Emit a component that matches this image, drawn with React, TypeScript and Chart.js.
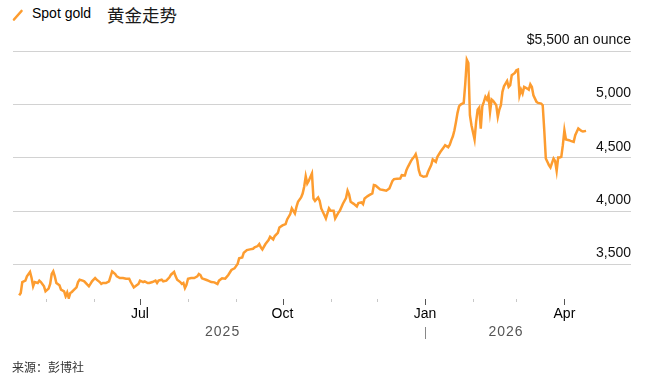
import React, { useEffect, useRef } from "react";
import { Chart, registerables } from "chart.js";

Chart.register(...registerables);

// Spot gold, USD per ounce
const DATES: string[] = [
  "2025-04-14","2025-04-15","2025-04-16","2025-04-18","2025-04-19","2025-04-21","2025-04-22","2025-04-23","2025-04-24","2025-04-26","2025-04-27","2025-04-28","2025-04-30",
  "2025-05-01","2025-05-03","2025-05-04","2025-05-05","2025-05-06","2025-05-07","2025-05-08","2025-05-10","2025-05-11","2025-05-13","2025-05-14","2025-05-15","2025-05-16","2025-05-17","2025-05-18","2025-05-19","2025-05-21","2025-05-22","2025-05-23","2025-05-25","2025-05-26","2025-05-28","2025-05-29","2025-05-30","2025-05-31",
  "2025-06-02","2025-06-03","2025-06-05","2025-06-06","2025-06-07","2025-06-09","2025-06-11","2025-06-12","2025-06-13","2025-06-15","2025-06-16","2025-06-18","2025-06-20","2025-06-22","2025-06-24","2025-06-25","2025-06-27","2025-06-28","2025-06-30",
  "2025-07-01","2025-07-03","2025-07-04","2025-07-06","2025-07-07","2025-07-09","2025-07-11","2025-07-12","2025-07-13","2025-07-15","2025-07-16","2025-07-18","2025-07-20","2025-07-21","2025-07-23","2025-07-24","2025-07-25","2025-07-27","2025-07-28","2025-07-29","2025-07-30","2025-07-31",
  "2025-08-01","2025-08-03","2025-08-05","2025-08-07","2025-08-08","2025-08-09","2025-08-10","2025-08-13","2025-08-14","2025-08-16","2025-08-18","2025-08-20","2025-08-21","2025-08-23","2025-08-25","2025-08-27","2025-08-29","2025-08-31",
  "2025-09-02","2025-09-03","2025-09-05","2025-09-06","2025-09-08","2025-09-10","2025-09-12","2025-09-13","2025-09-15","2025-09-16","2025-09-17","2025-09-18","2025-09-20","2025-09-22","2025-09-23","2025-09-25","2025-09-26","2025-09-28","2025-09-29",
  "2025-10-01","2025-10-03","2025-10-04","2025-10-06","2025-10-07","2025-10-09","2025-10-10","2025-10-11","2025-10-13","2025-10-14","2025-10-15","2025-10-16","2025-10-17","2025-10-18","2025-10-19","2025-10-20","2025-10-21","2025-10-22","2025-10-24","2025-10-25","2025-10-26","2025-10-28","2025-10-29","2025-10-31",
  "2025-11-01","2025-11-03","2025-11-04","2025-11-06","2025-11-07","2025-11-09","2025-11-11","2025-11-12","2025-11-13","2025-11-14","2025-11-16","2025-11-18","2025-11-19","2025-11-21","2025-11-22","2025-11-23","2025-11-25","2025-11-26","2025-11-28","2025-11-29","2025-11-30",
  "2025-12-01","2025-12-03","2025-12-05","2025-12-07","2025-12-09","2025-12-11","2025-12-12","2025-12-14","2025-12-16","2025-12-17","2025-12-19","2025-12-20","2025-12-21","2025-12-23","2025-12-24","2025-12-25","2025-12-26","2025-12-27","2025-12-28","2025-12-29","2025-12-31",
  "2026-01-02","2026-01-03","2026-01-05","2026-01-06","2026-01-08","2026-01-09","2026-01-11","2026-01-13","2026-01-14","2026-01-16","2026-01-17","2026-01-18","2026-01-19","2026-01-20","2026-01-21","2026-01-22","2026-01-23","2026-01-24","2026-01-26","2026-01-27","2026-01-28","2026-01-29","2026-01-30","2026-01-31",
  "2026-02-02","2026-02-03","2026-02-04","2026-02-05","2026-02-06","2026-02-07","2026-02-08","2026-02-09","2026-02-10","2026-02-11","2026-02-12","2026-02-13","2026-02-14","2026-02-15","2026-02-16","2026-02-17","2026-02-18","2026-02-19","2026-02-20","2026-02-21","2026-02-23","2026-02-24","2026-02-25","2026-02-26","2026-02-28",
  "2026-03-01","2026-03-02","2026-03-03","2026-03-04","2026-03-05","2026-03-06","2026-03-08","2026-03-09","2026-03-10","2026-03-11","2026-03-12","2026-03-14","2026-03-15","2026-03-17","2026-03-18","2026-03-19","2026-03-20","2026-03-21","2026-03-22","2026-03-23","2026-03-25","2026-03-26","2026-03-27","2026-03-28","2026-03-29","2026-03-30","2026-03-31",
  "2026-04-01","2026-04-02","2026-04-04","2026-04-05","2026-04-07","2026-04-08","2026-04-09","2026-04-10","2026-04-12","2026-04-13","2026-04-15",
];

const PRICES: number[] = [
  3209,3231,3334,3347,3387,3428,3372,3294,3334,3325,3347,3334,3294,
  3247,3272,3316,3409,3434,3387,3325,3303,3262,3247,3200,3237,3184,3231,3241,3256,3284,3334,3356,3347,3341,3309,3294,3316,3341,
  3372,3356,3334,3316,3325,3325,3341,3387,3434,3409,3387,3372,3372,3365,3365,3334,3284,3294,3316,
  3347,3334,3341,3325,3325,3334,3347,3325,3347,3356,3341,3347,3378,3403,3428,3387,3356,3334,3316,3325,3278,3309,
  3365,3372,3372,3387,3409,3400,3369,3353,3347,3334,3331,3316,3347,3369,3366,3400,3447,3462,
  3503,3556,3565,3609,3634,3640,3646,3659,3671,3690,3659,3640,3690,3727,3759,3734,3765,3796,3846,
  3865,3877,3921,3971,4024,3977,4039,4086,4127,4164,4227,4326,4258,4283,4320,4352,4117,4095,4127,4095,4024,3962,3930,4024,
  4002,4002,3930,3983,4002,4068,4122,4190,4155,4086,4067,4042,4074,4080,4064,4118,4140,4149,4165,4243,4240,
  4227,4202,4196,4190,4211,4283,4299,4302,4305,4336,4333,4383,4414,4470,4492,4508,4533,4477,4383,4336,4321,
  4327,4368,4430,4483,4461,4508,4555,4596,4617,4598,4621,4665,4700,4757,4835,4920,4982,4998,5013,5194,5419,5388,4898,4804,
  4670,4835,4950,4970,4773,4982,5023,5070,5045,5085,4929,5045,5032,5013,4992,4882,4951,4992,5117,5169,5219,5163,5179,5273,5294,
  5319,5325,5085,5138,5101,5163,5148,5138,5188,5163,5085,5023,5013,5007,4992,4757,4492,4461,4430,4408,4492,4470,4376,4502,4502,4508,4617,
  4757,4670,4664,4658,4648,4710,4742,4773,4751,4745,4751,
];

const Y_TICKS = [3500, 4000, 4500, 5000, 5500];
const Y_TOP_LABEL = "$5,500 an ounce";
const Y_MIN = 3175;
const Y_MAX = 5500;

const MONTH_TICKS = [
  "2025-05-01","2025-06-01","2025-07-01","2025-08-01","2025-09-01","2025-10-01",
  "2025-11-01","2025-12-01","2026-01-01","2026-02-01","2026-03-01","2026-04-01",
];
const MONTH_LABELS: Record<string, string> = {
  "2025-07-01": "Jul",
  "2025-10-01": "Oct",
  "2026-01-01": "Jan",
  "2026-04-01": "Apr",
};
const YEAR_LABELS = ["2025", "2026"];
const YEAR_BOUNDARY = "2026-01-01";
const X_MIN = "2025-04-10";
const X_MAX = "2026-05-14";

const TITLE_SERIES = "Spot gold";
const TITLE_MAIN = "黄金走势";
const SOURCE = "来源：彭博社";

const GOLD = "#fd9c2f";
const FONT = '"Liberation Sans", Arial, sans-serif';
const CJK = '"Noto Sans CJK SC", "Noto Sans", sans-serif';

const DAY_MS = 86400000;
const toDay = (s: string) =>
  Date.UTC(+s.slice(0, 4), +s.slice(5, 7) - 1, +s.slice(8, 10)) / DAY_MS;

const axisDecor = {
  id: "axisDecor",
  afterDraw(chart: any) {
    const ctx = chart.ctx as CanvasRenderingContext2D;
    const xs = chart.scales.x;
    const bottom = chart.chartArea.bottom;
    ctx.save();
    ctx.lineWidth = 1;
    MONTH_TICKS.forEach((m) => {
      const px = Math.round(xs.getPixelForValue(toDay(m))) + 0.5;
      const major = m in MONTH_LABELS;
      ctx.strokeStyle = major ? "#555555" : "#c8c8c8";
      ctx.beginPath();
      ctx.moveTo(px, bottom);
      ctx.lineTo(px, bottom + (major ? 6 : 3));
      ctx.stroke();
    });
    const start = xs.getPixelForValue(toDay(DATES[0]));
    const end = xs.getPixelForValue(toDay(DATES[DATES.length - 1]));
    const mid = xs.getPixelForValue(toDay(YEAR_BOUNDARY));
    ctx.fillStyle = "#555555";
    ctx.font = `14px ${FONT}`;
    ctx.textAlign = "center";
    ctx.textBaseline = "alphabetic";
    (ctx as any).letterSpacing = "1px";
    ctx.fillText(YEAR_LABELS[0], (start + mid) / 2 + 0.5, bottom + 37);
    ctx.fillText(YEAR_LABELS[1], (mid + end) / 2 + 0.5, bottom + 37);
    ctx.strokeStyle = "#888888";
    const sx = Math.round(mid) + 0.5;
    ctx.beginPath();
    ctx.moveTo(sx, bottom + 28);
    ctx.lineTo(sx, bottom + 40);
    ctx.stroke();
    ctx.restore();
  },
};

export default function App() {
  const canvasRef = useRef<HTMLCanvasElement | null>(null);

  useEffect(() => {
    if (!canvasRef.current) return;
    const monthLabelByDay: Record<number, string> = {};
    MONTH_TICKS.forEach((m) => {
      monthLabelByDay[toDay(m)] = MONTH_LABELS[m] || "";
    });

    const chart = new Chart(canvasRef.current, {
      type: "line",
      data: {
        datasets: [
          {
            label: TITLE_SERIES,
            data: DATES.map((d, i) => ({ x: toDay(d), y: PRICES[i] })),
            borderColor: GOLD,
            borderWidth: 2.5,
            pointRadius: 0,
            tension: 0,
            fill: false,
          },
        ],
      },
      options: {
        animation: false,
        responsive: true,
        maintainAspectRatio: false,
        layout: { padding: { left: 13, right: 16, top: 51, bottom: 58 } },
        plugins: {
          legend: { display: false },
          tooltip: { enabled: false },
          title: { display: false },
        },
        scales: {
          x: {
            type: "linear",
            min: toDay(X_MIN),
            max: toDay(X_MAX),
            afterBuildTicks: (scale: any) => {
              scale.ticks = MONTH_TICKS.map((m) => ({ value: toDay(m) }));
            },
            afterFit: (scale: any) => {
              scale.height = 30;
            },
            grid: { display: false, drawTicks: false },
            border: { display: false },
            ticks: {
              autoSkip: false,
              maxRotation: 0,
              padding: 7,
              color: "#000000",
              font: { family: FONT, size: 14 },
              callback: (v: any) => monthLabelByDay[v as number] ?? "",
            },
          },
          y: {
            type: "linear",
            position: "right",
            min: Y_MIN,
            max: Y_MAX,
            afterBuildTicks: (scale: any) => {
              scale.ticks = Y_TICKS.map((v) => ({ value: v }));
            },
            afterFit: (scale: any) => {
              scale.width = 0;
            },
            grid: { color: "#d2d2d2", lineWidth: 1, drawTicks: false },
            border: { display: false },
            ticks: {
              mirror: true,
              padding: 0,
              labelOffset: -11,
              color: "#111111",
              font: { family: FONT, size: 14 },
              callback: (v: any) =>
                v === Y_MAX ? Y_TOP_LABEL : Number(v).toLocaleString("en-US"),
            },
          },
        },
      },
      plugins: [axisDecor],
    });
    return () => chart.destroy();
  }, []);

  return (
    <div style={{ position: "absolute", left: 0, top: 0, width: 647, height: 387, background: "#fff" }}>
      <svg width={30} height={30} style={{ position: "absolute", left: 0, top: 0 }}>
        <line x1={14} y1={19.5} x2={21.5} y2={11} stroke={GOLD} strokeWidth={2.6} strokeLinecap="round" />
      </svg>
      <div style={{ position: "absolute", left: 32, top: 6, fontFamily: FONT, fontSize: 14, lineHeight: "14px", color: "#000", whiteSpace: "nowrap" }}>
        {TITLE_SERIES}
      </div>
      <div style={{ position: "absolute", left: 107, top: 5.5, fontFamily: CJK, fontSize: 17.5, lineHeight: "17.5px", color: "#1a1a1a", whiteSpace: "nowrap" }}>
        {TITLE_MAIN}
      </div>
      <div style={{ position: "absolute", left: 0, top: 0, width: 647, height: 387 }}>
        <canvas ref={canvasRef} />
      </div>
      <div style={{ position: "absolute", left: 12, top: 361, fontFamily: CJK, fontSize: 12, lineHeight: "12px", color: "#333", whiteSpace: "nowrap" }}>
        {SOURCE}
      </div>
    </div>
  );
}
